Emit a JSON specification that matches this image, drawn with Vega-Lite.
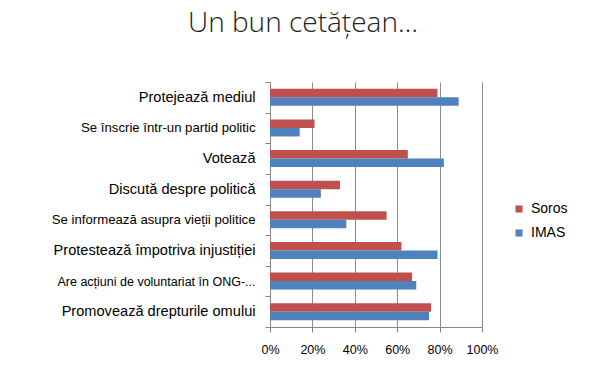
{
  "$schema": "https://vega.github.io/schema/vega-lite/v6.json",
  "autosize": {"type": "none"},
  "width": 212,
  "height": 245,
  "padding": {"left": 270, "top": 82, "right": 128, "bottom": 52},
  "background": "white",
  "title": {
    "text": "Un bun cetățean…",
    "font": "Open Sans",
    "fontSize": 28,
    "fontWeight": 300,
    "color": "#222222",
    "anchor": "middle",
    "dx": -73,
    "offset": 36
  },
  "data": {
    "values": [
      {"category": "Protejează mediul", "series": "Soros", "value": 0.79},
      {"category": "Protejează mediul", "series": "IMAS", "value": 0.89},
      {"category": "Se înscrie într-un partid politic", "series": "Soros", "value": 0.21},
      {"category": "Se înscrie într-un partid politic", "series": "IMAS", "value": 0.14},
      {"category": "Votează", "series": "Soros", "value": 0.65},
      {"category": "Votează", "series": "IMAS", "value": 0.82},
      {"category": "Discută despre politică", "series": "Soros", "value": 0.33},
      {"category": "Discută despre politică", "series": "IMAS", "value": 0.24},
      {"category": "Se informează asupra vieții politice", "series": "Soros", "value": 0.55},
      {"category": "Se informează asupra vieții politice", "series": "IMAS", "value": 0.36},
      {"category": "Protestează împotriva injustiției", "series": "Soros", "value": 0.62},
      {"category": "Protestează împotriva injustiției", "series": "IMAS", "value": 0.79},
      {"category": "Are acțiuni de voluntariat în ONG-...", "series": "Soros", "value": 0.67},
      {"category": "Are acțiuni de voluntariat în ONG-...", "series": "IMAS", "value": 0.69},
      {"category": "Promovează drepturile omului", "series": "Soros", "value": 0.76},
      {"category": "Promovează drepturile omului", "series": "IMAS", "value": 0.75}
    ]
  },
  "mark": {"type": "bar"},
  "encoding": {
    "y": {
      "field": "category",
      "type": "nominal",
      "sort": null,
      "scale": {"paddingInner": 0, "paddingOuter": 0},
      "axis": {
        "title": null,
        "labelFont": "Liberation Sans",
        "labelFontSize": {
          "condition": [
            {"test": "datum.value === 'Se înscrie într-un partid politic' || datum.value === 'Se informează asupra vieții politice'", "value": 13.2},
            {"test": "datum.value === 'Are acțiuni de voluntariat în ONG-...'", "value": 12.5}
          ],
          "value": 14.6
        },
        "labelColor": "#000000",
        "labelPadding": 10,
        "labelLimit": 260,
        "tickBand": "extent",
        "tickSize": 5,
        "tickColor": "#868686",
        "domainColor": "#868686",
        "grid": false
      }
    },
    "yOffset": {
      "field": "series",
      "type": "nominal",
      "sort": ["Soros", "IMAS"],
      "scale": {"paddingInner": 0, "paddingOuter": 0.8}
    },
    "x": {
      "field": "value",
      "type": "quantitative",
      "scale": {"domain": [0, 1]},
      "axis": {
        "title": null,
        "values": [0, 0.2, 0.4, 0.6, 0.8, 1],
        "format": ".0%",
        "labelFont": "Liberation Sans",
        "labelFontSize": 12.5,
        "labelColor": "#000000",
        "labelPadding": 11,
        "labelOverlap": false,
        "labelFlush": false,
        "tickSize": 5,
        "tickColor": "#868686",
        "domainColor": "#868686",
        "grid": true,
        "gridColor": "#8c8c8c",
        "gridOpacity": 1
      }
    },
    "color": {
      "field": "series",
      "type": "nominal",
      "scale": {"domain": ["Soros", "IMAS"], "range": ["#C0504D", "#4F81BD"]},
      "legend": {
        "title": null,
        "orient": "none",
        "legendX": 242,
        "legendY": 120,
        "symbolType": "square",
        "symbolSize": 50,
        "symbolStrokeWidth": 0,
        "labelFont": "Liberation Sans",
        "labelFontSize": 14,
        "labelColor": "#000000",
        "rowPadding": 10,
        "labelOffset": 5
      }
    }
  },
  "config": {"view": {"stroke": null}}
}
